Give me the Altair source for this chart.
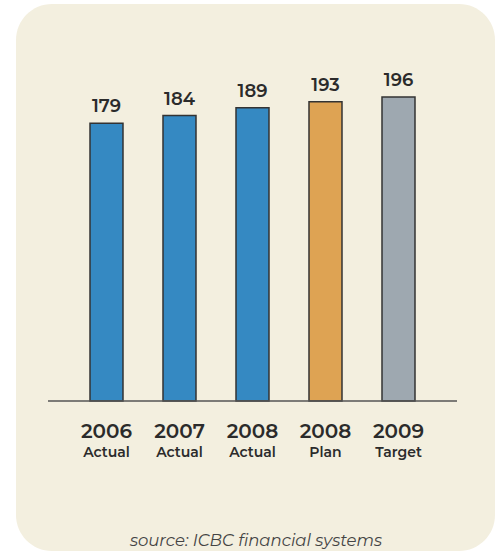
import altair as alt
import pandas as pd

years = ["2006", "2007", "2008", "2008", "2009"]
kinds = ["Actual", "Actual", "Actual", "Plan", "Target"]
values = [179, 184, 189, 193, 196]
colors = ["#3589c2", "#3589c2", "#3589c2", "#dea353", "#9ea8b0"]

df = pd.DataFrame({
    "key": [f"{y} {k}" for y, k in zip(years, kinds)],
    "year": years,
    "kind": kinds,
    "value": values,
    "color": colors,
})
order = list(df["key"])

W, H = 498, 558
xscale = alt.Scale(domain=order, range=[70, 435], paddingInner=0.548, paddingOuter=0.274)
yscale = alt.Scale(domain=[0, 196], range=[401, 97])

bg = alt.Chart(pd.DataFrame({"a": [0]})).mark_rect(
    color="#f3efdf", cornerRadius=36
).encode(x=alt.value(16), x2=alt.value(495), y=alt.value(4), y2=alt.value(551))

base = alt.Chart(df)
X = alt.X("key:N", scale=xscale, sort=order, axis=None)

bars = base.mark_bar(stroke="#333333", strokeWidth=1.5).encode(
    x=X,
    y=alt.Y("value:Q", scale=yscale, axis=None),
    color=alt.Color("color:N", scale=None),
)

vals = base.mark_text(
    dy=-7, baseline="bottom", font="Montserrat, Lato, sans-serif", fontSize=18,
    fontWeight=600, color="#2b2b2b"
).encode(x=X, y=alt.Y("value:Q", scale=yscale, axis=None), text="value:Q")

yrs = base.mark_text(
    baseline="middle", font="Montserrat, Lato, sans-serif", fontSize=20,
    fontWeight=600, color="#2b2b2b"
).encode(x=X, y=alt.value(432), text="year:N")

kds = base.mark_text(
    baseline="middle", font="Montserrat, Lato, sans-serif", fontSize=14,
    fontWeight=600, color="#2b2b2b"
).encode(x=X, y=alt.value(453), text="kind:N")

rule = alt.Chart(pd.DataFrame({"a": [0]})).mark_rule(
    color="#555555", strokeWidth=1.5
).encode(x=alt.value(48), x2=alt.value(457), y=alt.value(401))

src = alt.Chart(pd.DataFrame({"t": ["source: ICBC financial systems"]})).mark_text(
    font="Montserrat, Lato, sans-serif", fontSize=16.5, fontStyle="italic",
    fontWeight=400, color="#444444"
).encode(x=alt.value(256), y=alt.value(541), text="t:N")

chart = alt.layer(bg, bars, rule, vals, yrs, kds, src).properties(
    width=W, height=H, padding=0, autosize=alt.AutoSizeParams(type="none"),
    background="white"
).configure_view(strokeWidth=0)

chart.save("out.html", embed_options={"renderer": "svg", "actions": False})
